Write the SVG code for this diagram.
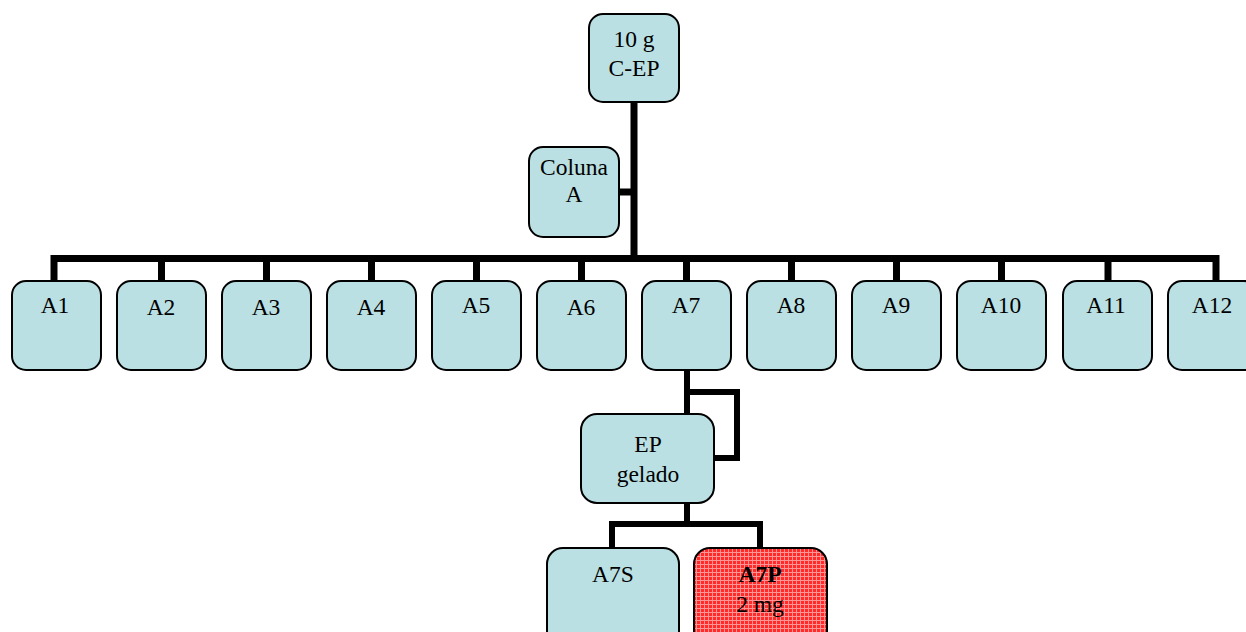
<svg xmlns="http://www.w3.org/2000/svg" width="1246" height="632" viewBox="0 0 1246 632">
<defs>
<pattern id="hatch" width="4" height="4" patternUnits="userSpaceOnUse">
<rect width="4" height="4" fill="#ff2a2a"/>
<path d="M0 0.5H4M0.5 0V4" stroke="#ff9494" stroke-width="1"/>
</pattern>
<style>
.n{fill:#bbe0e3;stroke:#000;stroke-width:2}
.t{font-family:"Liberation Serif","Times New Roman",serif;font-size:23.5px;fill:#000;text-anchor:middle}
.c{fill:none;stroke:#000;stroke-width:7;stroke-linejoin:miter;stroke-linecap:butt}
.c2{fill:none;stroke:#000;stroke-width:6;stroke-linejoin:miter}
</style>
</defs>
<rect width="1246" height="632" fill="#fff"/>
<g id="connectors">
<path class="c" d="M634 102V262"/>
<path class="c" d="M619 192H634"/>
<path class="c" d="M54 281V258.5H1216V281"/>
<path class="c" d="M161.5 258.5V281M266.5 258.5V281M371.5 258.5V281M476.5 258.5V281M581.5 258.5V281M686.5 258.5V281M791.5 258.5V281M896.5 258.5V281M1001.5 258.5V281M1108 258.5V281"/>
<path class="c2" d="M687 370V414"/>
<path class="c2" d="M687 392H737V458H714"/>
<path class="c2" d="M687 503V524"/>
<path class="c2" d="M612 548V524H760V548"/>
</g>
<g id="n_top"><rect class="n" x="589" y="14" width="90" height="88" rx="14"/><text class="t" x="634" y="47">10 g</text><text class="t" x="634" y="76">C-EP</text></g>
<g id="n_coluna"><rect class="n" x="529" y="147" width="90" height="90" rx="14"/><text class="t" x="574" y="175">Coluna</text><text class="t" x="574" y="202">A</text></g>
<g id="n_A1"><rect class="n" x="12" y="281" width="89" height="89" rx="14"/><text class="t" x="55" y="313">A1</text></g>
<g id="n_A2"><rect class="n" x="117" y="281" width="89" height="89" rx="14"/><text class="t" x="161" y="315">A2</text></g>
<g id="n_A3"><rect class="n" x="222" y="281" width="89" height="89" rx="14"/><text class="t" x="266" y="315">A3</text></g>
<g id="n_A4"><rect class="n" x="327" y="281" width="89" height="89" rx="14"/><text class="t" x="371" y="315">A4</text></g>
<g id="n_A5"><rect class="n" x="432" y="281" width="89" height="89" rx="14"/><text class="t" x="476" y="313">A5</text></g>
<g id="n_A6"><rect class="n" x="537" y="281" width="89" height="89" rx="14"/><text class="t" x="581" y="315">A6</text></g>
<g id="n_A7"><rect class="n" x="642" y="281" width="89" height="89" rx="14"/><text class="t" x="686" y="313">A7</text></g>
<g id="n_A8"><rect class="n" x="747" y="281" width="89" height="89" rx="14"/><text class="t" x="791" y="313">A8</text></g>
<g id="n_A9"><rect class="n" x="852" y="281" width="89" height="89" rx="14"/><text class="t" x="896" y="313">A9</text></g>
<g id="n_A10"><rect class="n" x="957" y="281" width="89" height="89" rx="14"/><text class="t" x="1001" y="313">A10</text></g>
<g id="n_A11"><rect class="n" x="1063" y="281" width="89" height="89" rx="14"/><text class="t" x="1106" y="313">A11</text></g>
<g id="n_A12"><rect class="n" x="1168" y="281" width="90" height="89" rx="14"/><text class="t" x="1212" y="313">A12</text></g>
<g id="n_EP"><rect class="n" x="581" y="414" width="133" height="89" rx="16"/><text class="t" x="648" y="452">EP</text><text class="t" x="648" y="482">gelado</text></g>
<g id="n_A7S"><rect class="n" x="547" y="548" width="132" height="100" rx="16"/><text class="t" x="613" y="582">A7S</text></g>
<g id="n_A7P"><rect x="694" y="548" width="133" height="100" rx="16" fill="url(#hatch)" stroke="#000" stroke-width="2"/><text class="t" x="760" y="582" font-weight="bold">A7P</text><text class="t" x="760" y="612">2 mg</text></g>
</svg>
